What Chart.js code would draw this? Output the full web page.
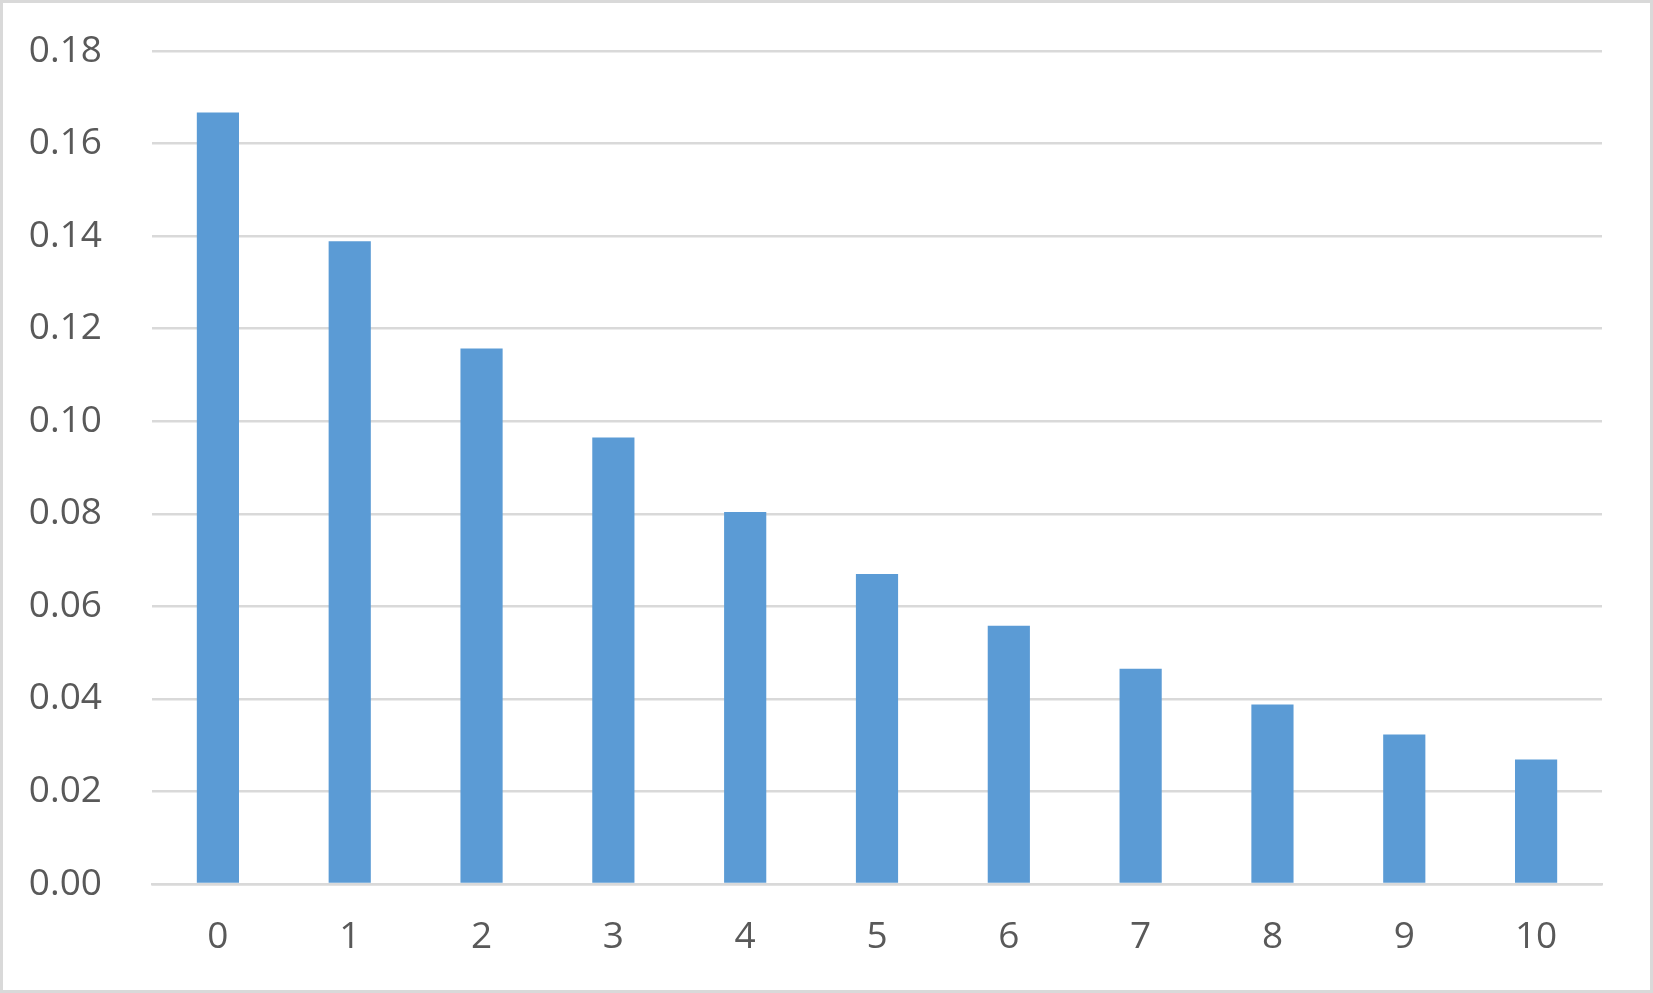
<!DOCTYPE html>
<html>
<head>
<meta charset="utf-8">
<script src="https://cdn.jsdelivr.net/npm/chart.js@4/dist/chart.umd.min.js"></script>
<style>
    html, body { margin: 0; padding: 0; background: #fff; }
    #wrap { width: 1653px; height: 993px; }
</style>
</head>
<body>
<div id="wrap"><canvas id="chart"></canvas></div>
<script>
// values
const categories = ['0', '1', '2', '3', '4', '5', '6', '7', '8', '9', '10'];
const probabilities = [0.1667, 0.1389, 0.1157, 0.0965, 0.0804, 0.0670, 0.0558, 0.0465, 0.0388, 0.0323, 0.0269];
const yTicks = [0, 0.02, 0.04, 0.06, 0.08, 0.10, 0.12, 0.14, 0.16, 0.18];

const gridColor = '#d9d9d9';
const textColor = '#595959';

// light grey frame round the whole chart
const framePlugin = {
    id: 'frame',
    afterDraw(chart) {
        const ctx = chart.ctx;
        ctx.save();
        ctx.strokeStyle = gridColor;
        ctx.lineWidth = 3;
        ctx.strokeRect(1.5, 1.5, chart.width - 3, chart.height - 3);
        ctx.restore();
    }
};

const ctx = document.getElementById('chart').getContext('2d');
new Chart(ctx, {
    type: 'bar',
    data: {
        labels: categories,
        datasets: [{
            data: probabilities,
            backgroundColor: '#5b9bd5',
            categoryPercentage: 1,
            barPercentage: 0.32
        }]
    },
    options: {
        responsive: true,
        maintainAspectRatio: false,
        animation: false,
        layout: { padding: { top: 51, right: 51, left: 0, bottom: 0 } },
        plugins: {
            legend: { display: false },
            tooltip: { enabled: false }
        },
        scales: {
            x: {
                grid: { display: false },
                border: { display: true, color: gridColor, width: 2.5 },
                ticks: {
                    color: textColor,
                    font: { family: 'Open Sans', size: 37 },
                    padding: 23,
                    maxRotation: 0
                },
                afterFit: (scale) => { scale.height = 993 - 884; }
            },
            y: {
                min: 0,
                max: 0.18,
                afterBuildTicks: (scale) => { scale.ticks = yTicks.map(v => ({ value: v })); },
                // invisible tick marks keep the labels away from the plot
                grid: { color: gridColor, lineWidth: 2.5, drawTicks: true, tickLength: 50, tickColor: 'rgba(0,0,0,0)' },
                border: { display: false },
                ticks: {
                    color: textColor,
                    font: { family: 'Open Sans', size: 37 },
                    padding: 0,
                    callback: (v) => Number(v).toFixed(2)
                },
                afterFit: (scale) => { scale.width = 152; }
            }
        }
    },
    plugins: [framePlugin]
});
</script>
</body>
</html>
